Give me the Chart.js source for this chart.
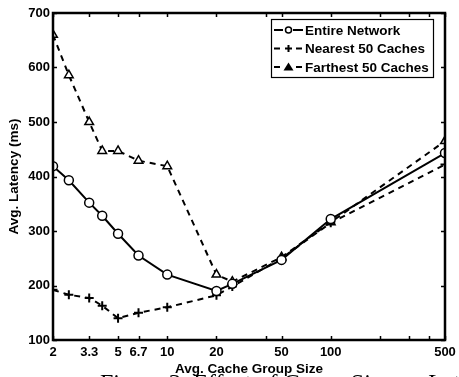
<!DOCTYPE html>
<html>
<head>
<meta charset="utf-8">
<script src="https://cdn.jsdelivr.net/npm/chart.js@4/dist/chart.umd.min.js"></script>
<style>
    html, body { margin: 0; padding: 0; background: #ffffff; }
    #wrap { width: 459px; height: 377px; }
</style>
</head>
<body>
<div id="wrap"><canvas id="graphLatency" width="459" height="377"></canvas></div>
<script>
// Tamaño medio del grupo de caches (eje x, logaritmico)
const groupSizes = [2, 2.5, 3.33, 4, 5, 6.67, 10, 20, 25, 50, 100, 500];

// Latencia media (ms) de cada serie
const entireNetwork = [419, 393, 352, 328, 295, 255, 220, 190, 203, 247, 322, 443];
const nearest50 = [192, 183, 177, 163, 140, 150, 160, 182, 198, 250, 315, 422];
const farthest50 = [660, 586, 500, 447, 447, 429, 419, 220, 207, 252, 316, 465];

// Marcas del eje x: las que llevan texto y las que no
const xTickValues = [2, 3.33, 5, 6.67, 10, 20, 50, 100, 500];
const xTickLabels = ["2", "3.3", "5", "6.7", "10", "20", "50", "100", "500"];
const xMinorTicks = [40, 200, 300, 400];
const yTickValues = [100, 200, 300, 400, 500, 600, 700];

const seriesNames = ["Entire Network", "Nearest 50 Caches", "Farthest 50 Caches"];

const boldFont = "'Liberation Sans', Arial, sans-serif";

function toPoints(values) {
    return values.map((v, i) => ({ x: groupSizes[i], y: v }));
}

// Marco, marcas hacia dentro, leyenda y pie de figura
const framePlugin = {
    id: "frame",
    afterDraw(chart) {
        const ctx = chart.ctx;
        const area = chart.chartArea;
        const xs = chart.scales.x;
        const ys = chart.scales.y;
        ctx.save();
        ctx.strokeStyle = "#000";

        // marcas del eje x (abajo y arriba)
        ctx.lineWidth = 1.5;
        xTickValues.concat(xMinorTicks).forEach((v) => {
            const px = Math.round(xs.getPixelForValue(v)) + 0.5;
            ctx.beginPath();
            ctx.moveTo(px, area.bottom);
            ctx.lineTo(px, area.bottom - 4);
            ctx.moveTo(px, area.top);
            ctx.lineTo(px, area.top + 4);
            ctx.stroke();
        });
        // marcas del eje y (izquierda y derecha)
        yTickValues.forEach((v) => {
            const py = Math.round(ys.getPixelForValue(v)) + 0.5;
            ctx.beginPath();
            ctx.moveTo(area.left, py);
            ctx.lineTo(area.left + 4, py);
            ctx.moveTo(area.right, py);
            ctx.lineTo(area.right - 4, py);
            ctx.stroke();
        });

        // caja del area de dibujo
        ctx.lineWidth = 2.5;
        ctx.strokeRect(area.left, area.top, area.right - area.left, area.bottom - area.top);

        // leyenda
        const lx = 271, ly = 19, lw = 162, lh = 58;
        ctx.fillStyle = "#fff";
        ctx.fillRect(lx, ly, lw, lh);
        ctx.lineWidth = 1.2;
        ctx.strokeRect(lx + 0.5, ly + 0.5, lw, lh);
        ctx.font = "bold 13.5px " + boldFont;
        ctx.textBaseline = "middle";
        ctx.textAlign = "left";
        chart.data.datasets.forEach((ds, i) => {
            const cy = ly + 11 + i * 18.5;
            ctx.strokeStyle = "#000";
            ctx.lineWidth = 2;
            ctx.setLineDash(ds.borderDash || []);
            ctx.beginPath();
            ctx.moveTo(lx + 3, cy);
            ctx.lineTo(lx + 32, cy);
            ctx.stroke();
            ctx.setLineDash([]);
            ctx.fillStyle = "#fff";
            if (ds.pointStyle === "circle") {
                ctx.fillRect(lx + 12, cy - 3, 10, 6);
                ctx.lineWidth = 1.5;
                ctx.beginPath();
                ctx.arc(lx + 17.5, cy, 3, 0, Math.PI * 2);
                ctx.fill();
                ctx.stroke();
            } else if (ds.pointStyle === "cross") {
                ctx.fillRect(lx + 12, cy - 5, 11, 10);
                ctx.lineWidth = 2;
                ctx.beginPath();
                ctx.moveTo(lx + 14, cy);
                ctx.lineTo(lx + 21, cy);
                ctx.moveTo(lx + 17.5, cy - 3.5);
                ctx.lineTo(lx + 17.5, cy + 3.5);
                ctx.stroke();
            } else {
                ctx.fillRect(lx + 11, cy - 5, 13, 10);
                ctx.fillStyle = "#000";
                ctx.beginPath();
                ctx.moveTo(lx + 17.5, cy - 4.5);
                ctx.lineTo(lx + 22.5, cy + 3.5);
                ctx.lineTo(lx + 12.5, cy + 3.5);
                ctx.closePath();
                ctx.fill();
            }
            ctx.fillStyle = "#000";
            ctx.fillText(ds.label, lx + 34, cy + 1);
        });

        // pie de figura, cortado por el borde inferior
        ctx.font = "24px 'Liberation Serif', 'Times New Roman', serif";
        ctx.fillStyle = "#000";
        ctx.textBaseline = "alphabetic";
        ctx.fillText("Figure 3: Effect of Group Size on Latency", 100, 390);
        ctx.restore();
    },
};

// Grafica de latencia frente al tamaño del grupo
const canvas = document.getElementById("graphLatency").getContext("2d");
const chart = new Chart(canvas, {
    type: "line",
    data: {
        datasets: [
            {
                label: seriesNames[0],
                data: toPoints(entireNetwork),
                borderColor: "#000",
                borderWidth: 2,
                pointStyle: "circle",
                pointRadius: 4.5,
                pointBorderWidth: 1.5,
                pointBackgroundColor: "#fff",
                pointBorderColor: "#000",
            },
            {
                label: seriesNames[1],
                data: toPoints(nearest50),
                borderColor: "#000",
                borderWidth: 2,
                borderDash: [6, 5],
                pointStyle: "cross",
                pointRadius: 4.5,
                pointBorderWidth: 2,
                pointBorderColor: "#000",
            },
            {
                label: seriesNames[2],
                data: toPoints(farthest50),
                borderColor: "#000",
                borderWidth: 2,
                borderDash: [6, 5],
                pointStyle: "triangle",
                pointRadius: 5,
                pointBorderWidth: 1.5,
                pointBackgroundColor: "#fff",
                pointBorderColor: "#000",
            },
        ],
    },
    options: {
        responsive: false,
        animation: false,
        layout: { padding: { top: 13, right: 14, left: 0, bottom: 0 } },
        plugins: { legend: { display: false }, tooltip: { enabled: false } },
        scales: {
            x: {
                type: "logarithmic",
                min: 2,
                max: 500,
                afterBuildTicks: (scale) => {
                    scale.ticks = xTickValues.map((v) => ({ value: v }));
                },
                afterFit: (scale) => {
                    scale.height = 37;
                },
                ticks: {
                    autoSkip: false,
                    maxRotation: 0,
                    padding: 2,
                    color: "#000",
                    font: { family: boldFont, size: 13, weight: "bold", lineHeight: 1.65 },
                    callback: (value) => xTickLabels[xTickValues.indexOf(value)],
                },
                grid: { display: false, drawTicks: false },
                border: { display: false },
                title: {
                    display: true,
                    text: "Avg. Cache Group Size",
                    color: "#000",
                    font: { family: boldFont, size: 13.5, weight: "bold" },
                    padding: { top: 0, bottom: 0 },
                },
            },
            y: {
                min: 100,
                max: 700,
                afterBuildTicks: (scale) => {
                    scale.ticks = yTickValues.map((v) => ({ value: v }));
                },
                afterFit: (scale) => {
                    scale.width = 53;
                },
                ticks: {
                    padding: 3,
                    color: "#000",
                    font: { family: boldFont, size: 13, weight: "bold" },
                },
                grid: { display: false, drawTicks: false },
                border: { display: false },
                title: {
                    display: true,
                    text: "Avg. Latency (ms)",
                    color: "#000",
                    font: { family: boldFont, size: 13.5, weight: "bold" },
                    padding: { top: 6, bottom: 0 },
                },
            },
        },
    },
    plugins: [framePlugin],
});
</script>
</body>
</html>
